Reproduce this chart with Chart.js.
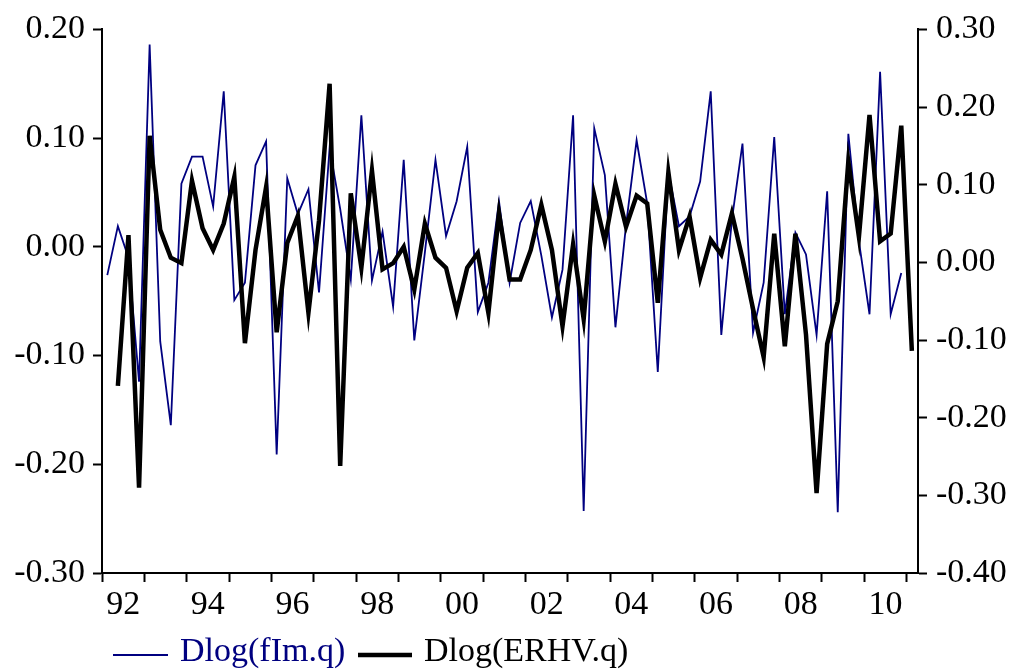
<!DOCTYPE html>
<html>
<head>
<meta charset="utf-8">
<script src="https://cdn.jsdelivr.net/npm/chart.js@4.4.0/dist/chart.umd.min.js"></script>
<style>
  html, body { margin: 0; padding: 0; background: #fff; }
  #wrap { width: 1012px; height: 670px; position: relative; }
</style>
</head>
<body>
<div id="wrap"><canvas id="chart"></canvas></div>
<script>
// Quarters 1992Q1 .. 2011Q1
const quarters = [
  "1992Q1","1992Q2","1992Q3","1992Q4","1993Q1","1993Q2","1993Q3","1993Q4",
  "1994Q1","1994Q2","1994Q3","1994Q4","1995Q1","1995Q2","1995Q3","1995Q4",
  "1996Q1","1996Q2","1996Q3","1996Q4","1997Q1","1997Q2","1997Q3","1997Q4",
  "1998Q1","1998Q2","1998Q3","1998Q4","1999Q1","1999Q2","1999Q3","1999Q4",
  "2000Q1","2000Q2","2000Q3","2000Q4","2001Q1","2001Q2","2001Q3","2001Q4",
  "2002Q1","2002Q2","2002Q3","2002Q4","2003Q1","2003Q2","2003Q3","2003Q4",
  "2004Q1","2004Q2","2004Q3","2004Q4","2005Q1","2005Q2","2005Q3","2005Q4",
  "2006Q1","2006Q2","2006Q3","2006Q4","2007Q1","2007Q2","2007Q3","2007Q4",
  "2008Q1","2008Q2","2008Q3","2008Q4","2009Q1","2009Q2","2009Q3","2009Q4",
  "2010Q1","2010Q2","2010Q3","2010Q4","2011Q1"
];

// Dlog(fIm.q) - left axis
const fIm = [
  -0.026, 0.019, -0.010, -0.124, 0.186, -0.087, -0.164, 0.058,
  0.083, 0.083, 0.037, 0.143, -0.049, -0.033, 0.075, 0.097,
  -0.191, 0.063, 0.030, 0.053, -0.042, 0.091, 0.035, -0.030,
  0.121, -0.031, 0.014, -0.055, 0.080, -0.086, -0.005, 0.080,
  0.010, 0.042, 0.092, -0.060, -0.033, 0.042, -0.033, 0.022,
  0.042, -0.008, -0.065, -0.021, 0.121, -0.243, 0.109, 0.066,
  -0.074, 0.020, 0.098, 0.040, -0.115, 0.069, 0.019, 0.028,
  0.060, 0.143, -0.081, 0.025, 0.095, -0.079, -0.033, 0.101,
  -0.062, 0.013, -0.007, -0.081, 0.051, -0.244, 0.104, 0.005,
  -0.062, 0.161, -0.062, -0.024, null
];

// Dlog(ERHV.q) - right axis
const erhv = [
  null, -0.159, 0.035, -0.290, 0.163, 0.042, 0.006, -0.001,
  0.105, 0.044, 0.016, 0.050, 0.110, -0.104, 0.016, 0.097,
  -0.090, 0.025, 0.060, -0.065, 0.054, 0.230, -0.262, 0.089,
  -0.007, 0.118, -0.009, -0.001, 0.020, -0.035, 0.050, 0.006,
  -0.007, -0.063, -0.007, 0.012, -0.065, 0.063, -0.022, -0.022,
  0.016, 0.074, 0.016, -0.082, 0.023, -0.073, 0.086, 0.027,
  0.101, 0.046, 0.086, 0.076, -0.052, 0.116, 0.016, 0.059,
  -0.020, 0.029, 0.010, 0.063, 0.005, -0.060, -0.122, 0.037,
  -0.108, 0.037, -0.093, -0.297, -0.105, -0.050, 0.130, 0.033,
  0.190, 0.027, 0.037, 0.176, -0.114
];

// x axis: tick marks at each year, labels every second year (centred in the year)
const yearTicks = [1992,1993,1994,1995,1996,1997,1998,1999,2000,2001,
                   2002,2003,2004,2005,2006,2007,2008,2009,2010,2011];
const labelYears = [1992,1994,1996,1998,2000,2002,2004,2006,2008,2010];
const yearLabels = ["92","94","96","98","00","02","04","06","08","10"];

const FONT = "Liberation Serif";
const BLUE = "#000080";

// quarter "1992Q1" -> position in the middle of that quarter
function qPos(q) {
  return parseInt(q.slice(0, 4)) + (parseInt(q.slice(5)) - 0.5) / 4;
}
function toPoints(vals) {
  return quarters.map((q, i) => ({ x: qPos(q), y: vals[i] }));
}

const labelAt = {};
labelYears.forEach((y, i) => { labelAt[y + 0.5] = yearLabels[i]; });

function fmt(v) {
  return (Math.round(v * 100) / 100).toFixed(2);
}

// Legend under the chart
const bottomLegend = {
  id: "bottomLegend",
  afterDraw(chart) {
    const c = chart.ctx;
    const items = [
      { ds: chart.data.datasets[1], x0: 113, x1: 168, tx: 180 },
      { ds: chart.data.datasets[0], x0: 358, x1: 412, tx: 424 }
    ];
    c.save();
    c.font = "34px '" + FONT + "'";
    c.textBaseline = "middle";
    items.forEach(it => {
      c.strokeStyle = it.ds.borderColor;
      c.lineWidth = it.ds.borderWidth;
      c.beginPath();
      c.moveTo(it.x0, 655);
      c.lineTo(it.x1, 655);
      c.stroke();
      c.fillStyle = it.ds.borderColor;
      c.fillText(it.ds.label, it.tx, 652);
    });
    c.restore();
  }
};

const ctx = document.getElementById("chart").getContext("2d");

const chart = new Chart(ctx, {
  type: "line",
  data: {
    datasets: [
      {
        label: "Dlog(ERHV.q)",
        data: toPoints(erhv),
        yAxisID: "y2",
        borderColor: "#000000",
        borderWidth: 4.5,
        pointRadius: 0,
        tension: 0,
        borderJoinStyle: "miter"
      },
      {
        label: "Dlog(fIm.q)",
        data: toPoints(fIm),
        yAxisID: "y",
        borderColor: BLUE,
        borderWidth: 1.8,
        pointRadius: 0,
        tension: 0
      }
    ]
  },
  options: {
    responsive: true,
    maintainAspectRatio: false,
    animation: false,
    devicePixelRatio: 1,
    layout: { padding: { top: 25, left: 0, right: 0, bottom: 0 } },
    plugins: {
      legend: { display: false },
      tooltip: { enabled: false }
    },
    scales: {
      x: {
        type: "linear",
        min: 1992,
        max: 2011.27,
        afterBuildTicks: s => {
          const t = yearTicks.map(v => ({ value: v }))
            .concat(labelYears.map(v => ({ value: v + 0.5 })));
          t.sort((a, b) => a.value - b.value);
          s.ticks = t;
        },
        afterFit: s => { s.height = 97; },
        ticks: {
          autoSkip: false,
          maxRotation: 0,
          minRotation: 0,
          color: "#000",
          padding: 3,
          font: { family: FONT, size: 34 },
          callback: v => labelAt[v] || ""
        },
        grid: {
          drawOnChartArea: false,
          tickLength: 9,
          tickWidth: 2,
          tickColor: c => (Number.isInteger(c.tick.value) ? "#000" : "rgba(0,0,0,0)")
        },
        border: { color: "#000", width: 2 }
      },
      y: {
        position: "left",
        min: -0.3,
        max: 0.2,
        afterFit: s => { s.width = 102; },
        ticks: {
          stepSize: 0.1,
          color: "#000",
          padding: 8,
          font: { family: FONT, size: 34 },
          callback: v => fmt(v)
        },
        grid: { drawOnChartArea: false, tickLength: 9, tickWidth: 2, tickColor: "#000" },
        border: { color: "#000", width: 2 }
      },
      y2: {
        position: "right",
        min: -0.4,
        max: 0.3,
        afterFit: s => { s.width = 94; },
        ticks: {
          stepSize: 0.1,
          color: "#000",
          padding: 9,
          font: { family: FONT, size: 34 },
          callback: v => fmt(v)
        },
        grid: { drawOnChartArea: false, tickLength: 9, tickWidth: 2, tickColor: "#000" },
        border: { color: "#000", width: 2 }
      }
    }
  },
  plugins: [bottomLegend]
});
</script>
</body>
</html>
